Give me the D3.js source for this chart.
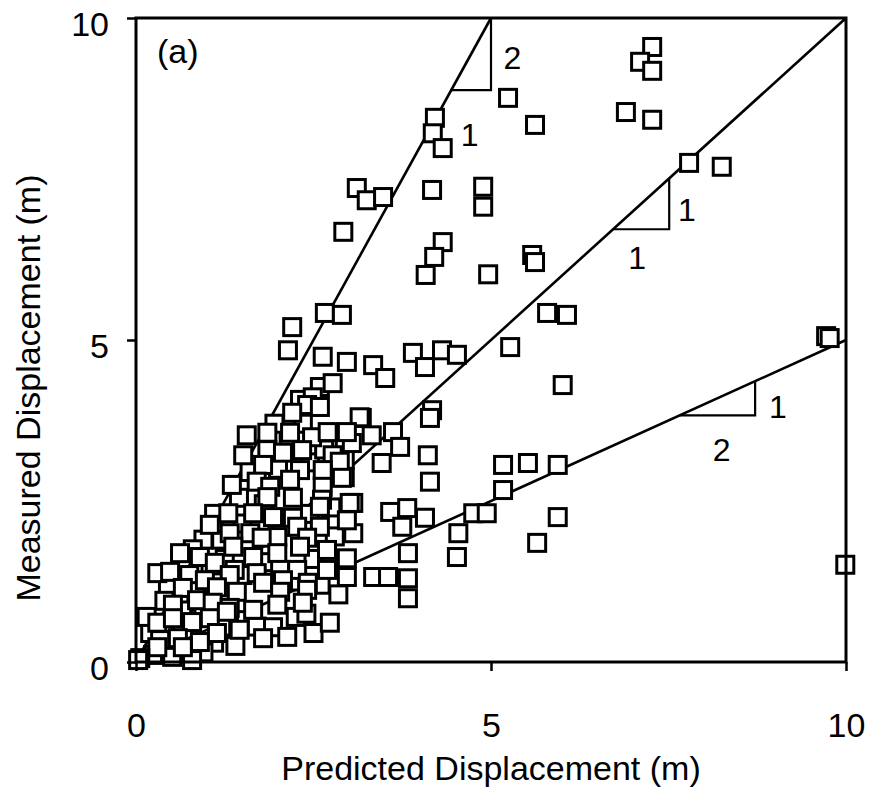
<!DOCTYPE html>
<html>
<head>
<meta charset="utf-8">
<script src="https://cdn.jsdelivr.net/npm/d3@7"></script>
<style>
  html, body { margin: 0; padding: 0; background: #fff; }
  svg { display: block; }
  text { font-family: "Liberation Sans", Arial, sans-serif; fill: #000; }
</style>
</head>
<body>
<svg id="chart" width="875" height="790"></svg>
<script>
// ---- data ----
const xTicks = [0, 5, 10];
const yTicks = [0, 5, 10];
const xTitle = "Predicted Displacement (m)";
const yTitle = "Measured Displacement (m)";
const panelLabel = "(a)";

// reference lines y = slope * x
const refSlopes = [2, 1, 0.5];

// slope triangles (data coordinates)
const triangles = [
  [[4.44, 8.88], [5.0, 8.88], [5.0, 10.0]],
  [[6.72, 6.72], [7.51, 6.72], [7.51, 7.51]],
  [[7.66, 3.83], [8.72, 3.83], [8.72, 4.36]]
];
const triLabels = [
  { x: 5.30, y: 9.38, t: "2" },
  { x: 4.70, y: 8.18, t: "1" },
  { x: 7.76, y: 7.02, t: "1" },
  { x: 7.06, y: 6.27, t: "1" },
  { x: 9.04, y: 3.96, t: "1" },
  { x: 8.25, y: 3.29, t: "2" }
];

// predicted (x) and measured (y) displacement, m
const predicted = [
  7.27, 7.10, 7.27, 6.90, 7.27, 7.79, 8.25, 5.24, 5.62, 4.21, 4.18, 4.32,
  3.11, 3.25, 3.48, 4.17, 4.89, 4.89, 2.92, 4.32, 4.20, 4.08, 4.96, 5.58,
  5.62, 2.66, 2.90, 2.20, 2.14, 5.79, 6.07, 2.63, 2.97, 3.34, 3.51, 3.90,
  4.07, 4.31, 4.52, 5.27, 6.01, 2.59, 2.77, 2.31, 2.49, 4.17, 4.14, 4.11,
  4.14, 3.18, 3.32, 3.62, 3.72, 3.46, 5.17, 5.52, 5.94, 5.17, 5.94, 5.65,
  3.58, 3.82, 4.07, 3.75, 4.75, 4.94, 4.54, 4.52, 3.83, 2.97, 3.34, 3.55,
  3.83, 3.83, 2.97, 3.06, 3.06, 2.94, 2.94, 2.94, 9.72, 9.77, 9.99, 3.04,
  0.45, 0.75, 0.85, 0.40, 0.65, 0.95, 1.20, 1.55, 1.70, 2.25, 2.50, 2.40,
  1.10, 1.40, 0.20, 0.15, 0.55, 0.95, 1.20, 1.50, 1.80, 2.05, 2.45, 2.75,
  2.50, 2.80, 1.45, 1.60, 2.00, 2.45, 2.15, 1.95, 2.35, 2.65, 1.25, 0.95,
  0.80, 1.10, 1.50, 1.85, 2.20, 2.60, 2.85, 1.05,
  2.41, 2.20, 2.59, 3.15, 1.56, 1.85, 2.17, 2.48, 2.70, 2.97, 1.51, 1.85,
  2.07, 2.34, 2.77, 1.79, 2.31, 2.87, 2.63, 1.35, 1.70, 1.89, 2.17, 2.63,
  2.90, 1.85, 2.21, 2.62, 1.30, 1.65, 1.93, 2.21, 2.59, 3.01, 1.04, 1.32,
  1.61, 1.99, 2.27, 2.59, 2.97, 1.77, 2.41, 0.62, 0.90, 1.37, 1.65, 1.99,
  2.31, 2.69, 1.11, 1.39, 1.70, 2.03, 2.27, 2.69, 0.30, 0.48, 0.97, 1.32,
  1.79, 2.07, 2.42, 0.66, 1.14, 1.42, 2.03, 2.41, 0.52, 0.86, 1.08, 1.32,
  1.65, 1.99, 2.35, 0.30, 0.52, 0.79, 1.04, 1.28, 1.93, 2.13, 2.73, 0.34,
  0.59, 0.90, 1.14, 1.46, 1.79, 0.24, 0.51, 0.79, 0.66, 0.30, 0.06, 0.03
];
const measured = [
  9.55, 9.32, 9.18, 8.54, 8.42, 7.75, 7.69, 8.76, 8.34, 8.45, 8.21, 7.98,
  7.36, 7.17, 7.22, 7.33, 7.38, 7.07, 6.68, 6.52, 6.29, 6.01, 6.02, 6.32,
  6.21, 5.42, 5.39, 5.20, 4.84, 5.42, 5.39, 4.74, 4.66, 4.61, 4.41, 4.80,
  4.58, 4.84, 4.77, 4.89, 4.30, 4.27, 4.33, 4.07, 4.11, 3.91, 3.79, 3.21,
  2.80, 3.79, 3.52, 3.57, 3.34, 3.09, 3.06, 3.09, 3.06, 2.67, 2.25, 1.85,
  2.33, 2.39, 2.24, 2.10, 2.31, 2.31, 2.00, 1.63, 1.69, 1.61, 1.32, 1.32,
  1.30, 0.99, 1.32, 2.47, 2.00, 3.14, 2.87, 3.45, 5.06, 5.03, 1.51, 3.40,
  1.20, 1.35, 1.10, 0.95, 0.80, 0.75, 0.55, 0.65, 0.55, 0.70, 0.45, 0.75,
  0.30, 0.25, 0.45, 0.70, 0.15, 0.15, 1.90, 2.15, 2.45, 2.10, 2.30, 2.40,
  1.60, 1.95, 2.55, 2.95, 3.00, 3.10, 3.40, 3.70, 3.70, 3.30, 1.60, 1.90,
  1.75, 2.30, 1.35, 1.55, 1.25, 1.20, 1.05, 1.50,
  3.99, 3.87, 3.96, 3.80, 3.52, 3.56, 3.56, 3.49, 3.57, 3.57, 3.21, 3.29,
  3.25, 3.29, 3.21, 3.06, 2.98, 3.11, 2.98, 2.75, 2.80, 2.72, 2.83, 2.72,
  2.86, 2.56, 2.55, 2.52, 2.31, 2.31, 2.25, 2.24, 2.41, 2.47, 2.13, 2.00,
  2.00, 1.94, 2.10, 2.10, 2.20, 1.93, 1.93, 1.69, 1.63, 1.79, 1.63, 1.69,
  1.79, 1.74, 1.54, 1.43, 1.38, 1.43, 1.43, 1.43, 1.38, 1.40, 1.27, 1.35,
  1.23, 1.27, 1.23, 1.15, 1.16, 1.09, 1.09, 1.12, 0.89, 0.96, 0.92, 0.84,
  0.81, 0.89, 0.92, 0.61, 0.68, 0.62, 0.68, 0.78, 0.54, 0.39, 0.61, 0.34,
  0.37, 0.31, 0.45, 0.50, 0.37, 0.11, 0.08, 0.03, 0.23, 0.23, 0.06, 0.03
];

// ---- drawing ----
const svg = d3.select("#chart");
const x = d3.scaleLinear().domain([0, 10]).range([136, 846]);
const y = d3.scaleLinear().domain([0, 10]).range([662, 18]);
const FS = 34;

// reference lines (clipped to the frame)
const xmax = 10, ymax = 10;
svg.append("g").selectAll("line").data(refSlopes).join("line")
  .attr("x1", x(0)).attr("y1", y(0))
  .attr("x2", s => x(Math.min(xmax, ymax / s)))
  .attr("y2", s => y(Math.min(ymax, xmax * s)))
  .attr("stroke", "#000").attr("stroke-width", 2.6);

// slope triangles
svg.append("g").selectAll("path").data(triangles).join("path")
  .attr("d", t => `M${x(t[0][0])},${y(t[0][1])}L${x(t[1][0])},${y(t[1][1])}L${x(t[2][0])},${y(t[2][1])}`)
  .attr("fill", "none").attr("stroke", "#000").attr("stroke-width", 2.2);

svg.append("g").selectAll("text").data(triLabels).join("text")
  .attr("x", d => x(d.x)).attr("y", d => y(d.y))
  .attr("text-anchor", "middle").attr("dominant-baseline", "central")
  .attr("font-size", 32).text(d => d.t);

// points
const pts = predicted.map((p, i) => ({ p, m: measured[i] }));
const S = 17;
svg.append("g").selectAll("rect").data(pts).join("rect")
  .attr("x", d => x(d.p) - S / 2).attr("y", d => y(d.m) - S / 2)
  .attr("width", S).attr("height", S)
  .attr("fill", "#fff").attr("stroke", "#000").attr("stroke-width", 3);

// frame
svg.append("rect")
  .attr("x", x(0)).attr("y", y(10))
  .attr("width", x(10) - x(0)).attr("height", y(0) - y(10))
  .attr("fill", "none").attr("stroke", "#000").attr("stroke-width", 3);

// axes
const gx = svg.append("g").attr("transform", `translate(0,${y(0)})`)
  .call(d3.axisBottom(x).tickValues(xTicks).tickFormat(d3.format("d"))
    .tickSizeInner(9).tickSizeOuter(0).tickPadding(42));
const gy = svg.append("g").attr("transform", `translate(${x(0)},0)`)
  .call(d3.axisLeft(y).tickValues(yTicks).tickFormat(d3.format("d"))
    .tickSizeInner(9).tickSizeOuter(0).tickPadding(18));
[gx, gy].forEach(g => {
  g.select(".domain").remove();
  g.selectAll(".tick line").attr("stroke", "#000").attr("stroke-width", 2.5);
  g.selectAll(".tick text").attr("font-size", FS)
    .attr("font-family", "'Liberation Sans', Arial, sans-serif").attr("fill", "#000");
});
gy.selectAll(".tick text").attr("dy", "0.5em");

// titles
svg.append("text").attr("x", 491).attr("y", 780)
  .attr("text-anchor", "middle").attr("font-size", FS).text(xTitle);
svg.append("text")
  .attr("transform", "translate(40,388) rotate(-90)")
  .attr("text-anchor", "middle").attr("font-size", FS).text(yTitle);
svg.append("text").attr("x", 157).attr("y", 63)
  .attr("font-size", FS).text(panelLabel);
</script>
</body>
</html>
